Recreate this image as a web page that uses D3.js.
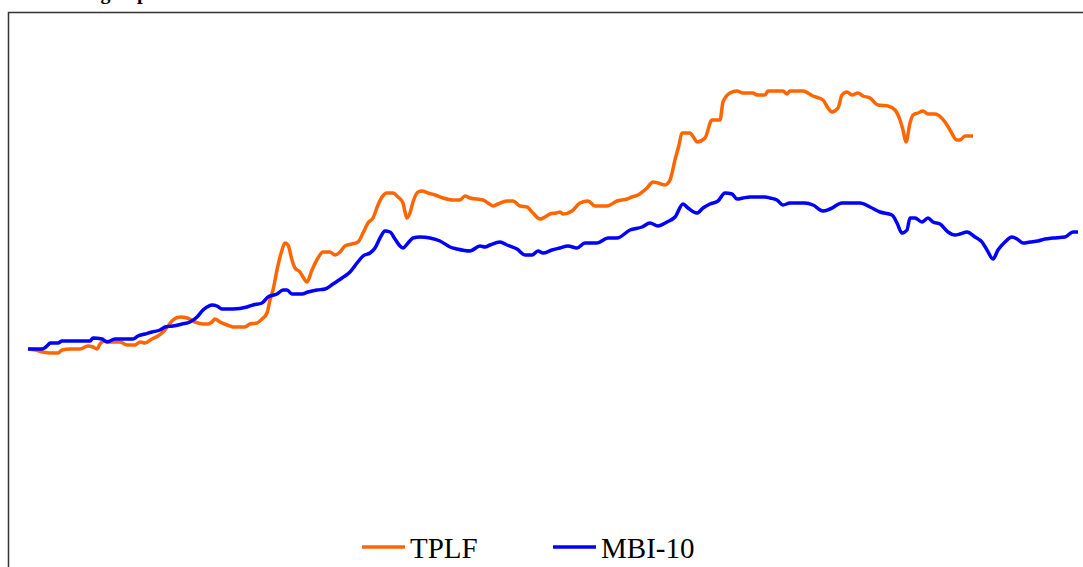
<!DOCTYPE html>
<html>
<head>
<meta charset="utf-8">
<script src="https://cdn.jsdelivr.net/npm/d3@7"></script>
<style>
  body { margin: 0; background: #fff; }
  svg { display: block; }
</style>
</head>
<body>
<div id="viz"></div>
<script>
const width = 1083;
const height = 567;

// week index since start, index level (start = 100)
const tplfT = [0,1.4,3,4.4,6,6.8,8.4,10.4,12,13,13.8,14.4,15.4,16.4,18.4,19.8,21.4,22.4,23.4,24.8,26,27,28,29,30.4,31.8,33.4,35,36,36.8,37.4,38.4,39.8,41,43.4,44.4,45.8,46.8,47.8,48.4,49,49.8,50.8,51.4,52,52.8,53.4,54.4,55,55.8,56.8,58,59,60.4,61.4,62.4,63.4,64.8,66,67,68,69,70,70.8,71.8,73,74,75,75.4,75.8,76.4,77,78,78.8,80,81.4,83,85,86.4,87.4,88.4,91,92,93,94,95.8,97,98.4,99.8,101,102.4,103.4,104.4,105.6,106.4,107,108.8,110.4,112,113.4,115.8,117.8,119.8,120.8,122,123.8,125,126,127.4,128.4,129.4,130.2,130.8,132.4,133.2,133.8,135.4,136.8,138.4,139,140.4,141.8,143,145,145.8,147.4,148,151,151.8,152.4,155,157,159,160,160.8,162,162.8,163.8,164.8,166,167,168.4,170,172,173.4,174.4,175,175.6,176.4,177,178,179,180,181.4,183.4,184.4,185.8,186.4,187.4,189];
const tplfV = [100,99.8,99.4,99.2,99.2,99.8,100,100,100.6,100.4,100,101,101.6,101.4,101.4,100.8,100.8,101.4,101.2,102,102.6,103.4,104.6,105.8,106.4,106.2,105.4,105,105,105.4,106,105.4,104.8,104.4,104.4,105,105.2,106,107.2,109.8,111.8,115.8,119.8,121.2,120.8,117.8,116.2,115.4,114.4,113.4,115.8,118.2,119.4,119.4,118.8,119.4,120.6,121,121.4,123.2,125.2,126.2,128.8,130.4,131.2,131.2,130.4,129.2,127.4,126.2,127.2,129.4,131.4,131.6,131.2,130.8,130.2,129.8,129.8,130.6,130.2,129.8,129.2,128.6,129,129.6,129.6,128.6,128.4,127.2,126,126.4,127,127.2,127.4,127,127.6,129.2,129.6,128.6,128.6,129.6,130,130.4,130.8,132.2,133.4,133.2,132.8,133.8,137.8,140.8,143.2,143.2,142.2,141.4,142.2,145.8,145.8,149.4,151.2,151.6,151.2,151.2,150.8,150.8,151.6,151.6,151,151.6,151.6,150.6,149.8,148.2,147.4,148.2,150.8,151.4,150.8,151.2,150.6,150.2,148.8,148.6,147.8,145.8,143.8,141.4,145.2,146.8,147.2,147.6,147,147,145.4,143.8,141.8,141.8,142.6,142.6];

const mbiT = [0,2.8,4,4.4,6,6.8,12.4,13,14.8,15.8,17.4,18.4,21,22,23.4,24.8,26.4,27.4,29,30.8,32.4,33.8,35,35.8,36.8,37.8,38.8,41,43.8,45,46.8,48,49.8,51,51.8,52.8,54.8,56,57.8,59.4,61,62.8,64.4,65.8,67,68.4,69.4,70.4,71.4,72.4,73.4,74.4,75,76,77,78.4,80.4,82.4,84.4,85.8,88.4,90.4,91.4,92.4,94.4,95.8,97.8,99.4,100.8,102,103,104.8,106.4,108,109.8,111.4,113.8,116,117.8,120.4,122.8,124.4,126,127.8,129.4,131,132,133.8,135,136.4,138,139.4,140.8,141.8,143,144.4,147.4,148.4,149.8,151,152.4,155.4,157,159,160.4,162.8,166.4,168.4,170.4,172.8,173.8,174.8,175.8,176.4,177.4,178.8,180,181,182.4,184,185.4,186.4,187.8,189.4,190.8,191.8,193,194,195.4,196.8,197.8,199,200.4,202,203.4,205,207.4,209,210];
const mbiV = [100,100,100.8,101.2,101.2,101.6,101.6,102.2,102,101.4,102,102,102,102.6,103,103.4,103.8,104.4,104.6,105,105.4,106.4,107.8,108.4,108.8,108.6,108,108,108.4,108.8,109.2,110.4,111,111.8,111.8,111,111,111.4,111.8,112,113,114.2,115.4,117.2,118.6,119.2,120.2,122.2,123.6,123.4,122,120.6,120.2,121.2,122.2,122.4,122.2,121.6,120.4,120,119.6,120.6,120.4,120.8,121.4,120.8,120,118.8,118.8,119.6,119.2,119.8,120.2,120.6,120.2,121.2,121.2,122.2,122.2,123.8,124.4,125.2,124.6,125.4,126.4,129,128.2,127.2,128.2,129,129.6,131.2,131,130,130.2,130.4,130.4,130.2,129.8,128.8,129.2,129.2,128.8,127.6,128,129.2,129.2,128.4,127.4,126.8,125.2,123.2,123.8,126.2,126.2,125.4,126.2,125.4,125,123.4,122.8,123,123.4,122.4,121.4,119.8,118,119.8,121.4,122.4,122,121.2,121.4,121.6,122,122.2,122.4,123.4,123.4];

const seriesNames = ['TPLF', 'MBI-10'];
const seriesColors = ['#ff6600', '#0000ff'];
const titleText = 'Tracking of performance';

const svg = d3.select('#viz')
  .append('svg')
    .attr('width', width)
    .attr('height', height);

// title sits above the frame, only its descenders show at the top edge
svg.append('text')
  .attr('x', 33)
  .attr('y', -1)
  .attr('font-family', 'Liberation Serif, Times New Roman, serif')
  .attr('font-weight', 'bold')
  .attr('font-size', 20)
  .attr('fill', '#000')
  .text(titleText);

// chart frame (right and bottom edges fall outside the picture)
svg.append('rect')
  .attr('x', 8.5)
  .attr('y', 12.5)
  .attr('width', 1200)
  .attr('height', 700)
  .attr('fill', 'none')
  .attr('stroke', '#333')
  .attr('stroke-width', 1.5);

const x = d3.scaleLinear()
  .domain([0, 210])
  .range([28, 1078]);

const y = d3.scaleLinear()
  .domain([80, 160])
  .range([449, 49]);

const line = d3.line()
  .x(d => x(d[0]))
  .y(d => y(d[1]))
  .curve(d3.curveMonotoneX);

const series = [
  d3.zip(tplfT, tplfV),
  d3.zip(mbiT, mbiV)
];

svg.selectAll('path.series')
  .data(series)
  .join('path')
    .attr('class', 'series')
    .attr('d', line)
    .attr('fill', 'none')
    .attr('stroke', (d, i) => seriesColors[i])
    .attr('stroke-width', 3.5)
    .attr('stroke-linejoin', 'round');

// legend
const legendX = [362, 553];
const legend = svg.selectAll('g.legend')
  .data(seriesNames)
  .join('g')
    .attr('class', 'legend')
    .attr('transform', (d, i) => `translate(${legendX[i]}, 547)`);

legend.append('line')
  .attr('x1', 0)
  .attr('x2', 43)
  .attr('y1', 0)
  .attr('y2', 0)
  .attr('stroke', (d, i) => seriesColors[i])
  .attr('stroke-width', 3.5);

legend.append('text')
  .attr('x', 48)
  .attr('y', 11)
  .attr('font-family', 'Liberation Serif, Times New Roman, serif')
  .attr('font-size', 29)
  .attr('fill', '#000')
  .text(d => d);
</script>
</body>
</html>
